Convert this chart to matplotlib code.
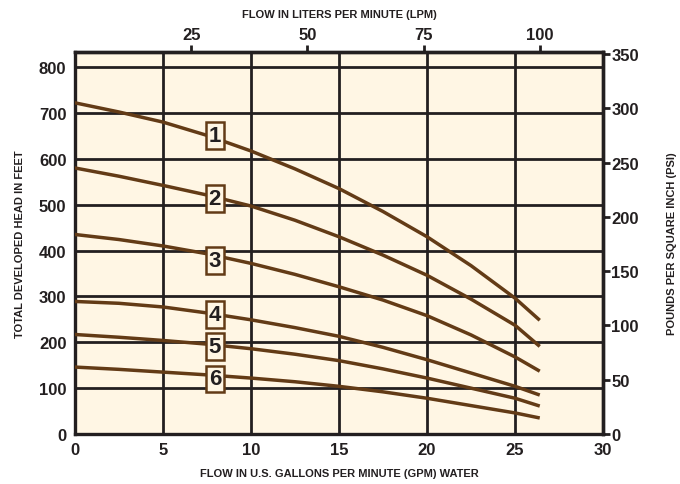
import matplotlib.pyplot as plt

# flow (GPM) sample points and head (ft) read for each curve
gpm = [0, 2.5, 5, 7.5, 10, 12.5, 15, 17.5, 20, 22.5, 25, 26.4]
curve1 = [722, 702, 680, 651, 617, 578, 535, 485, 430, 367, 296, 248]
curve2 = [580, 562, 542, 521, 497, 466, 430, 390, 346, 294, 237, 191]
curve3 = [435, 424, 410, 393, 372, 348, 321, 292, 258, 216, 168, 137]
curve4 = [289, 285, 277, 264, 249, 232, 213, 189, 162, 133, 104, 85]
curve5 = [217, 211, 204, 196, 186, 174, 160, 142, 122, 100, 78, 61]
curve6 = [146, 141, 135, 129, 122, 114, 104, 92, 78, 62, 46, 35]
curves = [curve1, curve2, curve3, curve4, curve5, curve6]

label_x = 7.95
label_y = [650, 513, 378, 260, 191, 120]
label_txt = ["1", "2", "3", "4", "5", "6"]

lpm_ticks = [25, 50, 75, 100]
psi_ticks = [0, 50, 100, 150, 200, 250, 300, 350]
ft_ticks = [0, 100, 200, 300, 400, 500, 600, 700, 800]

FT_MAX = 833
PSI_MAX = 352
ratio = FT_MAX / PSI_MAX

brown = "#633b16"
ink = "#231f20"
cream = "#fff6e4"

plt.rcParams['font.family'] = ['Liberation Sans', 'DejaVu Sans']

fig = plt.figure(figsize=(6.8, 4.85), dpi=100)
ax = fig.add_axes([0.110, 0.103, 0.777, 0.788])
ax.set_facecolor(cream)

for c in curves:
    ax.plot(gpm, c, color=brown, lw=2.5, solid_capstyle='butt',
            solid_joinstyle='round', zorder=3)

for x in [5, 10, 15, 20, 25]:
    ax.axvline(x, color=ink, lw=2.0, zorder=2)
for y in ft_ticks[1:]:
    ax.axhline(y, color=ink, lw=2.0, zorder=2)

for t, y in zip(label_txt, label_y):
    ax.text(label_x, y, t, ha='center', va='center', fontsize=16, fontweight='bold',
            color=ink, zorder=5,
            bbox=dict(boxstyle='square,pad=0.13', fc=cream, ec=brown, lw=1.8))

ax.set_xlim(0, 30)
ax.set_ylim(0, FT_MAX)
ax.set_xticks([0, 5, 10, 15, 20, 25, 30])
ax.set_yticks(ft_ticks)
ax.tick_params(axis='both', length=0, labelsize=12, pad=6, colors=ink)
for lbl in ax.get_xticklabels() + ax.get_yticklabels():
    lbl.set_fontweight('bold')
for s in ax.spines.values():
    s.set_linewidth(2.4)
    s.set_color(ink)

top = ax.secondary_xaxis('top', functions=(lambda g: g * 3.785, lambda l: l / 3.785))
top.set_xticks(lpm_ticks)
top.tick_params(length=5, width=2, labelsize=12, pad=2, colors=ink)
for lbl in top.get_xticklabels():
    lbl.set_fontweight('bold')
top.spines['top'].set_linewidth(2.4)
top.set_xlabel("FLOW IN LITERS PER MINUTE (LPM)", fontsize=8, fontweight='bold',
               color=ink, labelpad=7)

right = ax.secondary_yaxis('right', functions=(lambda f: f / ratio, lambda p: p * ratio))
right.set_yticks(psi_ticks)
right.tick_params(length=5, width=2, labelsize=12, pad=1, colors=ink)
for lbl in right.get_yticklabels():
    lbl.set_fontweight('bold')
right.spines['right'].set_linewidth(2.4)
right.set_ylabel("POUNDS PER SQUARE INCH (PSI)", fontsize=8, fontweight='bold',
                 color=ink, labelpad=20)

ax.set_xlabel("FLOW IN U.S. GALLONS PER MINUTE (GPM) WATER", fontsize=8,
              fontweight='bold', color=ink, labelpad=8)
ax.set_ylabel("TOTAL DEVELOPED HEAD IN FEET", fontsize=8, fontweight='bold',
              color=ink, labelpad=10)

fig.savefig("out.png", dpi=100)
